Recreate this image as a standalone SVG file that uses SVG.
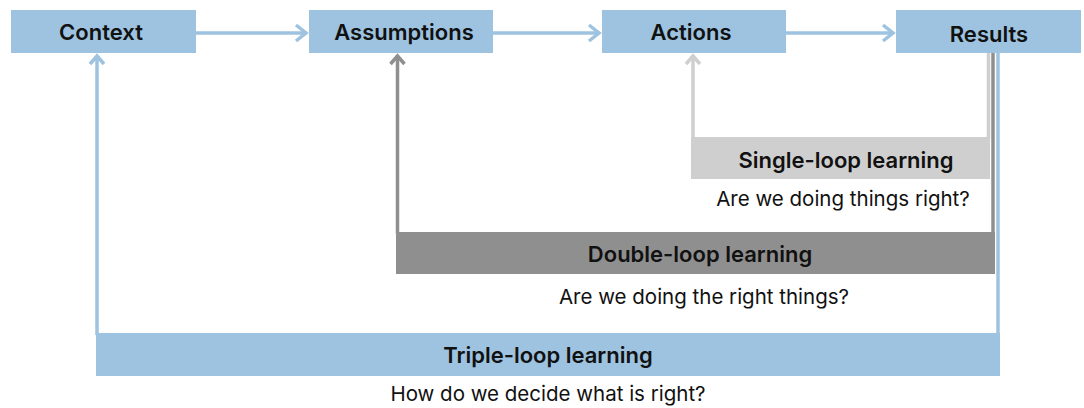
<svg xmlns="http://www.w3.org/2000/svg" width="1084" height="408" viewBox="0 0 1084 408">
<style>
.box{fill:#9dc3e0}
.lbl{font-family:Inter,"Liberation Sans",sans-serif;font-size:22px;font-weight:600;fill:#111;text-anchor:middle}
.q{font-family:Inter,"Liberation Sans",sans-serif;font-size:20.5px;font-weight:400;fill:#111;text-anchor:middle}
.ln{fill:none;stroke-width:3.5}
.blue{stroke:#9dc3e0}
.dark{stroke:#8f8f8f}
.light{stroke:#cfcfcf}
.head{fill:none;stroke-width:3.5;stroke-linecap:butt;stroke-linejoin:miter}
</style>
<rect width="1084" height="408" fill="#fff"/>
<g id="connectors">
<line class="ln blue" x1="196" y1="33" x2="305" y2="33"/>
<polyline class="head blue" points="296,25 306,33 296,41"/>
<line class="ln blue" x1="493" y1="33" x2="598" y2="33"/>
<polyline class="head blue" points="589,25 599,33 589,41"/>
<line class="ln blue" x1="786" y1="33" x2="892" y2="33"/>
<polyline class="head blue" points="883,25 893,33 883,41"/>
<polyline class="ln blue" points="998,53 998,335"/>
<polyline class="ln blue" points="97,335 97,56"/>
<polyline class="head blue" points="90,64 97,56 104,64"/>
<polyline class="ln dark" points="993,53 993,234"/>
<polyline class="ln dark" points="397.5,234 397.5,56"/>
<polyline class="head dark" points="390.5,64 397.5,56 404.5,64"/>
<polyline class="ln light" points="988.5,53 988.5,139"/>
<polyline class="ln light" points="693,139 693,56"/>
<polyline class="head light" points="686,64 693,56 700,64"/>
</g>
<g id="context"><rect class="box" x="11" y="10" width="185" height="43"/><text class="lbl" x="101" y="40">Context</text></g>
<g id="assumptions"><rect class="box" x="309" y="10" width="184" height="43"/><text class="lbl" x="404" y="40">Assumptions</text></g>
<g id="actions"><rect class="box" x="602" y="10" width="184" height="43"/><text class="lbl" x="691" y="40">Actions</text></g>
<g id="results"><rect class="box" x="896" y="10" width="185" height="43"/><text class="lbl" x="989" y="42">Results</text></g>
<g id="single-loop"><rect x="691" y="137" width="299" height="42" fill="#cfcfcf"/><text class="lbl" x="846" y="168">Single-loop learning</text><text class="q" x="843" y="206">Are we doing things right?</text></g>
<g id="double-loop"><rect x="396" y="232" width="599" height="42" fill="#8f8f8f"/><text class="lbl" x="700" y="262">Double-loop learning</text><text class="q" x="704" y="304">Are we doing the right things?</text></g>
<g id="triple-loop"><rect x="96" y="333" width="904" height="43" fill="#9dc3e0"/><text class="lbl" x="548" y="363">Triple-loop learning</text><text class="q" x="548" y="401">How do we decide what is right?</text></g>
</svg>
